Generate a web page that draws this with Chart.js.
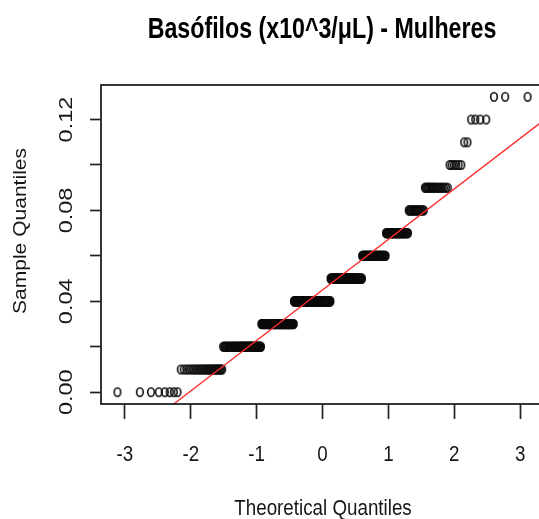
<!DOCTYPE html>
<html>
<head>
<meta charset="utf-8">
<script src="https://cdn.jsdelivr.net/npm/chart.js@4.4.1/dist/chart.umd.min.js"></script>
<style>
  html, body { margin: 0; padding: 0; background: #ffffff; overflow: hidden; }
  #wrap { width: 560px; height: 519px; }
</style>
</head>
<body>
<div id="wrap"><canvas id="qq" width="560" height="519"></canvas></div>
<script>
// ---- texts ----
const chartTitle = 'Basófilos (x10^3/μL) - Mulheres';
const xAxisTitle = 'Theoretical Quantiles';
const yAxisTitle = 'Sample Quantiles';

// ---- sample: distinct values and how many observations sit at each ----
const sampleLevels = [0.00, 0.01, 0.02, 0.03, 0.04, 0.05, 0.06, 0.07, 0.08, 0.09, 0.10, 0.11, 0.12, 0.13];
const levelCounts  = [8,    27,   60,   84,   117,  96,   57,   39,   19,   18,   6,    2,    4,    3];

// ---- axis ticks ----
const xTickValues = [-3, -2, -1, 0, 1, 2, 3];
const xTickLabels = ['-3', '-2', '-1', '0', '1', '2', '3'];
const yTickValues = [0.00, 0.02, 0.04, 0.06, 0.08, 0.10, 0.12];
const yTickLabels = ['0.00', '', '0.04', '', '0.08', '', '0.12'];

// inverse standard normal CDF (Acklam's rational approximation)
function qnorm(p) {
  const a = [-3.969683028665376e+01, 2.209460984245205e+02, -2.759285104469687e+02,
             1.383577518672690e+02, -3.066479806614716e+01, 2.506628277459239e+00];
  const b = [-5.447609879822406e+01, 1.615858368580409e+02, -1.556989798598866e+02,
             6.680131188771972e+01, -1.328068155288572e+01];
  const c = [-7.784894002430293e-03, -3.223964580411365e-01, -2.400758277161838e+00,
             -2.549732539343734e+00, 4.374664141464968e+00, 2.938163982698783e+00];
  const d = [7.784695709041462e-03, 3.224671290700398e-01, 2.445134137142996e+00,
             3.754408661907416e+00];
  const pLow = 0.02425, pHigh = 1 - pLow;
  let q, r;
  if (p < pLow) {
    q = Math.sqrt(-2 * Math.log(p));
    return (((((c[0]*q + c[1])*q + c[2])*q + c[3])*q + c[4])*q + c[5]) /
           ((((d[0]*q + d[1])*q + d[2])*q + d[3])*q + 1);
  }
  if (p <= pHigh) {
    q = p - 0.5; r = q * q;
    return (((((a[0]*r + a[1])*r + a[2])*r + a[3])*r + a[4])*r + a[5]) * q /
           (((((b[0]*r + b[1])*r + b[2])*r + b[3])*r + b[4])*r + 1);
  }
  q = Math.sqrt(-2 * Math.log(1 - p));
  return -(((((c[0]*q + c[1])*q + c[2])*q + c[3])*q + c[4])*q + c[5]) /
          ((((d[0]*q + d[1])*q + d[2])*q + d[3])*q + 1);
}

// sorted sample and its normal plotting positions
const sample = [];
sampleLevels.forEach((v, i) => { for (let k = 0; k < levelCounts[i]; k++) sample.push(v); });
const n = sample.length;
const ppA = n <= 10 ? 3 / 8 : 0.5;
const qqPoints = sample.map((v, i) => ({ x: qnorm((i + 1 - ppA) / (n + 1 - 2 * ppA)), y: v }));

// reference line through the first and third quartiles
function quantile7(sorted, p) {
  const h = (sorted.length - 1) * p, lo = Math.floor(h);
  const hi = Math.min(lo + 1, sorted.length - 1);
  return sorted[lo] + (h - lo) * (sorted[hi] - sorted[lo]);
}
const q1 = quantile7(sample, 0.25), q3 = quantile7(sample, 0.75);
const slope = (q3 - q1) / (qnorm(0.75) - qnorm(0.25));
const intercept = q1 - slope * qnorm(0.25);

// axis ranges padded by 4% on each side
const xLo = Math.min(...qqPoints.map(p => p.x)), xHi = Math.max(...qqPoints.map(p => p.x));
const xPad = (xHi - xLo) * 0.04;
const xMin = xLo - xPad, xMax = xHi + xPad;
const yLo = Math.min(...sample), yHi = Math.max(...sample);
const yPad = (yHi - yLo) * 0.04;
const yMin = yLo - yPad, yMax = yHi + yPad;

const lineData = [
  { x: xMin, y: intercept + slope * xMin },
  { x: xMax, y: intercept + slope * xMax }
];

// open ring marker, slightly taller than wide
function makeRing() {
  const c = document.createElement('canvas');
  c.width = 12; c.height = 14;
  const g = c.getContext('2d');
  g.strokeStyle = '#0d0d0d';
  g.lineWidth = 1.6;
  g.beginPath();
  g.ellipse(6, 7, 3.3, 4.2, 0, 0, Math.PI * 2);
  g.stroke();
  return c;
}
const ring = makeRing();

const FONT = '"Liberation Sans", Arial, Helvetica, sans-serif';
const TEXT_COLOR = '#161616';

function drawText(ctx, str, x, y, o) {
  ctx.save();
  ctx.translate(x, y);
  if (o.rotate) ctx.rotate(o.rotate);
  ctx.scale(o.sx || 1, o.sy || 1);
  ctx.font = o.font;
  ctx.textAlign = o.align || 'center';
  ctx.textBaseline = 'alphabetic';
  ctx.fillStyle = o.color || TEXT_COLOR;
  ctx.fillText(str, 0, 0);
  ctx.restore();
}

const decorations = {
  id: 'decorations',
  afterDraw(chart) {
    const ctx = chart.ctx;
    const area = chart.chartArea;
    const xs = chart.scales.x, ys = chart.scales.y;

    // plot frame
    ctx.save();
    ctx.strokeStyle = '#222222';
    ctx.lineWidth = 1.8;
    ctx.strokeRect(area.left, area.top, area.right - area.left, area.bottom - area.top);
    ctx.restore();

    // title
    drawText(ctx, chartTitle, 322, 37.5, { font: 'bold 23.2px ' + FONT, sy: 1.25, color: '#000' });

    // x tick labels
    xTickValues.forEach((v, i) => {
      drawText(ctx, xTickLabels[i], xs.getPixelForValue(v), 461, { font: '18.8px ' + FONT, sy: 1.2 });
    });
    // x axis title
    drawText(ctx, xAxisTitle, 323, 515, { font: '18.8px ' + FONT, sy: 1.2 });

    // y tick labels, rotated
    yTickValues.forEach((v, i) => {
      if (!yTickLabels[i]) return;
      drawText(ctx, yTickLabels[i], 71.5, ys.getPixelForValue(v), {
        font: '18.8px ' + FONT, rotate: -Math.PI / 2, sx: 1.25
      });
    });
    // y axis title
    drawText(ctx, yAxisTitle, 26, 231, { font: '18.8px ' + FONT, rotate: -Math.PI / 2, sx: 1.12 });
  }
};

new Chart(document.getElementById('qq'), {
  type: 'scatter',
  data: {
    datasets: [
      {
        type: 'line',
        data: lineData,
        borderColor: '#ff2a2a',
        borderWidth: 1.3,
        pointRadius: 0,
        fill: false,
        order: 0
      },
      {
        data: qqPoints,
        pointStyle: ring,
        pointRadius: 4,
        showLine: false,
        order: 1
      }
    ]
  },
  options: {
    responsive: false,
    animation: false,
    events: [],
    layout: { padding: { left: 0, top: 85, right: 16, bottom: 0 } },
    plugins: {
      legend: { display: false },
      tooltip: { enabled: false },
      title: { display: false }
    },
    scales: {
      x: {
        type: 'linear',
        min: xMin,
        max: xMax,
        afterBuildTicks: s => { s.ticks = xTickValues.map(v => ({ value: v })); },
        afterFit: s => { s.height = 115; },
        grid: { display: true, drawOnChartArea: false, drawTicks: true, tickLength: 15, tickWidth: 1.7, tickColor: '#222222' },
        border: { display: false },
        ticks: { display: false }
      },
      y: {
        type: 'linear',
        min: yMin,
        max: yMax,
        afterBuildTicks: s => { s.ticks = yTickValues.map(v => ({ value: v })); },
        afterFit: s => { s.width = 101; },
        grid: { display: true, drawOnChartArea: false, drawTicks: true, tickLength: 11, tickWidth: 1.7, tickColor: '#222222' },
        border: { display: false },
        ticks: { display: false }
      }
    }
  },
  plugins: [decorations]
});
</script>
</body>
</html>
